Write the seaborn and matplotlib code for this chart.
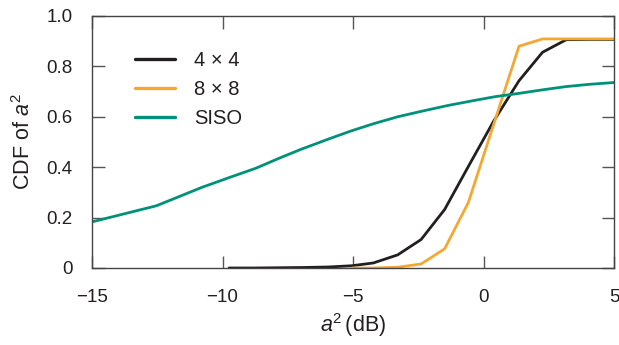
import matplotlib
matplotlib.use("Agg")
import matplotlib.pyplot as plt
import seaborn as sns
import pandas as pd

sns.set_theme(style="ticks")
plt.rcParams['font.family'] = ['Liberation Sans', 'DejaVu Sans']
plt.rcParams['mathtext.fontset'] = 'custom'
plt.rcParams['mathtext.it'] = 'Liberation Sans:italic'
plt.rcParams['mathtext.rm'] = 'Liberation Sans'

# Data
x_4x4 = [-9.75, -8.8, -7.85, -6.9, -5.95, -5.04, -4.22, -3.29, -2.39, -1.49, -0.58, 0.39, 1.36, 2.26, 3.17, 4.08, 5.0]
y_4x4 = [0.0, 0.0, 0.001, 0.002, 0.004, 0.009, 0.02, 0.052, 0.113, 0.232, 0.403, 0.583, 0.743, 0.856, 0.906, 0.907, 0.907]

x_8x8 = [-5.04, -4.22, -3.29, -2.39, -1.49, -0.58, 0.39, 1.36, 2.26, 3.17, 4.08, 5.0]
y_8x8 = [0.0, 0.0, 0.003, 0.016, 0.076, 0.26, 0.57, 0.88, 0.909, 0.909, 0.909, 0.909]

x_siso = [-15.0, -12.53, -10.79, -9.63, -8.72, -7.82, -7.04, -6.01, -5.10, -4.20, -3.29, -2.33, -1.36, -0.45, 0.45, 1.36, 2.26, 3.17, 4.07, 5.0]
y_siso = [0.183, 0.247, 0.32, 0.363, 0.396, 0.436, 0.469, 0.509, 0.543, 0.573, 0.60, 0.623, 0.645, 0.663, 0.68, 0.693, 0.707, 0.72, 0.729, 0.736]

labels = ["4 \u00d7 4", "8 \u00d7 8", "SISO"]
colors = ["#231f20", "#f4a832", "#00917a"]

x_ticks = [-15, -10, -5, 0, 5]
x_ticklabels = ["\u221215", "\u221210", "\u22125", "0", "5"]
y_ticks = [0, 0.2, 0.4, 0.6, 0.8, 1.0]
y_ticklabels = ["0", "0.2", "0.4", "0.6", "0.8", "1.0"]

df = pd.concat([
    pd.DataFrame({"x": x_4x4, "y": y_4x4, "s": labels[0]}),
    pd.DataFrame({"x": x_8x8, "y": y_8x8, "s": labels[1]}),
    pd.DataFrame({"x": x_siso, "y": y_siso, "s": labels[2]}),
], ignore_index=True)

fig = plt.figure(figsize=(6.19, 3.45), dpi=100)
ax = fig.add_axes([92/619, 1-268/345, (614-92)/619, (268-16)/345])

sns.lineplot(data=df, x="x", y="y", hue="s", palette=colors, hue_order=labels,
             sort=False, estimator=None, linewidth=2.0, ax=ax)

ax.set_xlim(-15, 5)
ax.set_ylim(0, 1.0)
ax.set_xticks(x_ticks)
ax.set_xticklabels(x_ticklabels)
ax.set_yticks(y_ticks)
ax.set_yticklabels(y_ticklabels)
ax.tick_params(direction="in", top=True, right=True, length=9, width=1.0,
               color="#555555", labelsize=13.5, labelcolor="#231f20")
ax.tick_params(axis="x", pad=15)
ax.tick_params(axis="y", pad=14)
for sp in ax.spines.values():
    sp.set_color("#444444")
    sp.set_linewidth(1.0)

ax.set_xlabel(r"$\mathit{a}^2\,$(dB)", fontsize=15.5, color="#231f20", labelpad=4)
ax.set_ylabel(r"CDF of $\mathit{a}^2$", fontsize=15.5, color="#231f20", labelpad=8)

leg = ax.legend(loc="upper left", bbox_to_anchor=(43/522, 1-(51-16)/252), frameon=False,
                fontsize=14.5, handlelength=2.0, handletextpad=0.95, labelspacing=0.5,
                borderpad=0, borderaxespad=0)
for t in leg.get_texts():
    t.set_color("#231f20")
for ln in leg.get_lines():
    ln.set_linewidth(2.4)

fig.savefig("out.png", dpi=100)
